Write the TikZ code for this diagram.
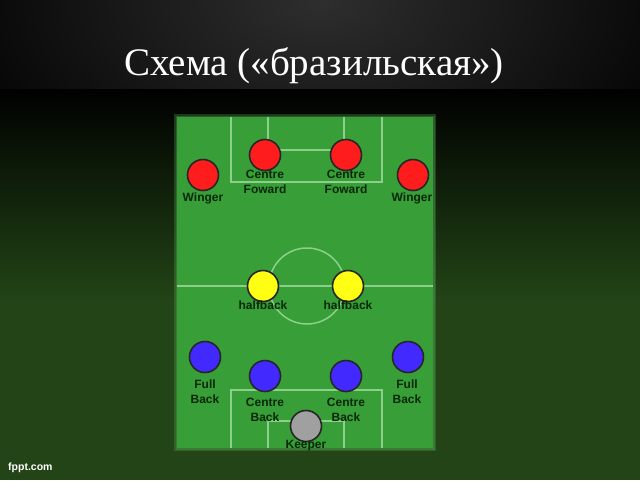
\documentclass[tikz,border=0pt]{standalone}
\usepackage{fontspec}
\setmainfont{Liberation Serif}
\newfontfamily\labfont{Liberation Sans}
\definecolor{fieldgreen}{RGB}{56,158,56}
\definecolor{linegreen}{RGB}{140,208,140}
\definecolor{labgreen}{RGB}{8,40,8}
\definecolor{grass}{RGB}{34,68,22}
\definecolor{titleglow}{RGB}{46,46,46}
\definecolor{pred}{RGB}{255,28,28}
\definecolor{pyellow}{RGB}{255,255,20}
\definecolor{pblue}{RGB}{66,42,255}
\definecolor{pgrey}{RGB}{160,160,160}
\begin{document}
\begin{tikzpicture}[x=1pt,y=-1pt,
  player/.style={circle, draw=black!85, line width=1.6pt, minimum size=31pt, inner sep=0pt},
  poslabel/.style={anchor=base, align=center, text=labgreen, inner sep=0pt,
    font=\labfont\bfseries\fontsize{12}{14.5}\selectfont},
  pitchline/.style={draw=linegreen, line width=1.5pt},
  glow/.style={fill=fieldgreen!85!white, opacity=0.3}]
\useasboundingbox (0,0) rectangle (640,480);
% background
\fill[black] (0,0) rectangle (640,480);
\begin{scope}
\clip (0,0) rectangle (640,89);
\shade[inner color=titleglow, outer color=black] (-100,-250) rectangle (740,250);
\end{scope}
\shade[top color=black, bottom color=grass] (0,89) rectangle (640,300);
\fill[grass] (0,300) rectangle (640,480);
% field with soft glow
\fill[glow] (174,114) rectangle (436,451);
\fill[glow] (175.5,115.5) rectangle (434.5,449.5);
\fill[fieldgreen] (177,117) rectangle (433,448);
\draw[pitchline] (177,286) -- (433,286);
\draw[pitchline] (307,286) circle (38);
\draw[pitchline] (231,117) -- (231,182) -- (382,182) -- (382,117);
\draw[pitchline] (268,117) -- (268,150) -- (344,150) -- (344,117);
\draw[pitchline] (231,448) -- (231,390) -- (382,390) -- (382,448);
\draw[pitchline] (268,448) -- (268,421) -- (344,421) -- (344,448);
% players
\node[player, fill=pred] (cfl) at (265,155) {};
\node[player, fill=pred] (cfr) at (346,155) {};
\node[player, fill=pred] (wl) at (203,175) {};
\node[player, fill=pred] (wr) at (413,175) {};
\node[player, fill=pyellow] (hl) at (263,286) {};
\node[player, fill=pyellow] (hr) at (348,286) {};
\node[player, fill=pblue] (fbl) at (205,357) {};
\node[player, fill=pblue] (fbr) at (408,357) {};
\node[player, fill=pblue] (cbl) at (265,376) {};
\node[player, fill=pblue] (cbr) at (346,376) {};
\node[player, fill=pgrey] (gk) at (306,426) {};
% labels (base = baseline of the last line)
\node[poslabel] (lcfl) at (265,193) {Centre\\Foward};
\node[poslabel] (lcfr) at (346,193) {Centre\\Foward};
\node[poslabel] (lwl) at (203,201) {Winger};
\node[poslabel] (lwr) at (412,201) {Winger};
\node[poslabel] (lhl) at (263,309) {halfback};
\node[poslabel] (lhr) at (348,309) {halfback};
\node[poslabel] (lfbl) at (205,403) {Full\\Back};
\node[poslabel] (lfbr) at (407,403) {Full\\Back};
\node[poslabel] (lcbl) at (265,421) {Centre\\Back};
\node[poslabel] (lcbr) at (346,421) {Centre\\Back};
\node[poslabel] (lgk) at (306,448) {Keeper};
% title and footer
\node[anchor=base, text=white, inner sep=0pt, font=\fontsize{39}{44}\selectfont] (title) at (314,75) {Схема («бразильская»)};
\node[anchor=base west, text=white, inner sep=0pt, font=\labfont\bfseries\fontsize{10.5}{12}\selectfont] (footer) at (8,470) {fppt.com};
\end{tikzpicture}
\end{document}
